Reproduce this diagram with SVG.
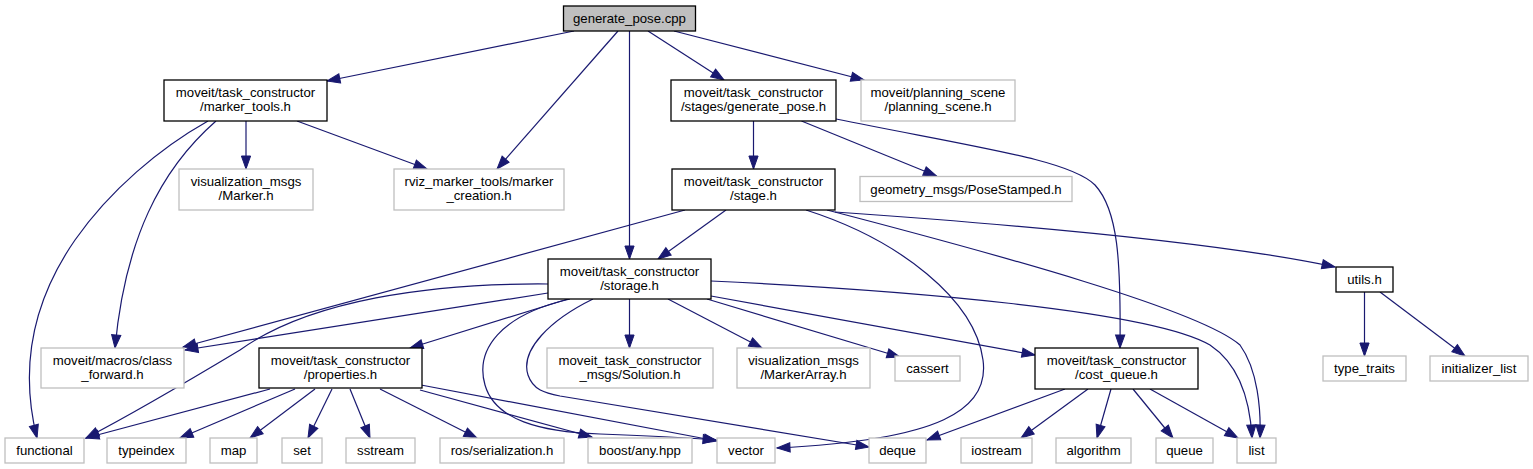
<svg xmlns="http://www.w3.org/2000/svg" width="1533" height="469" viewBox="0 0 1533 469">
<style>
.n rect{fill:#ffffff;stroke:#000000;stroke-width:1.3}
.g rect{fill:#ffffff;stroke:#bfbfbf;stroke-width:1.3}
.root rect{fill:#bfbfbf;stroke:#000000;stroke-width:1.3}
text{font-family:"Liberation Sans",Arial,sans-serif;font-size:13.2px;fill:#000000;text-anchor:middle}
#edges path{fill:none;stroke:#191970;stroke-width:1.2;marker-end:url(#ah)}
</style>
<defs>
<marker id="ah" markerUnits="userSpaceOnUse" markerWidth="14" markerHeight="10" refX="13" refY="5" orient="auto" overflow="visible">
<path d="M0,0.4 L13,5 L0,9.6 z" fill="#191970" stroke="#191970" stroke-width="1"/>
</marker>
</defs>
<rect width="1533" height="469" fill="#ffffff"/>
<g id="edges">
<path d="M574,31 L327,81"/>
<path d="M618,31 L497,169"/>
<path d="M629.5,31 L629.5,259"/>
<path d="M648,31 L724,80"/>
<path d="M674,31 L864,80"/>
<path d="M246,121 L246,169"/>
<path d="M297,121 L427,169"/>
<path d="M208,121 C160,148 110,190 75,240 C30,305 20,370 37,438"/>
<path d="M216,121 C160,170 125,240 115,348"/>
<path d="M753.5,121 L753.5,169"/>
<path d="M801.5,121 L936.5,176"/>
<path d="M836,119 C980,148 1070,160 1095,185 C1118,210 1121,260 1120,348"/>
<path d="M685,210 L183,347"/>
<path d="M726,210 L658,259"/>
<path d="M806,210 C900,240 975,300 983,360 C990,410 940,440 777,448"/>
<path d="M827,210 C1000,255 1200,310 1240,345 C1258,370 1261,410 1260,438"/>
<path d="M835,212 C950,220 1200,238 1335,267"/>
<path d="M548,293 L185,350"/>
<path d="M548,284 C430,283 310,300 240,350 C190,380 140,410 86,438"/>
<path d="M568,299 L410,348"/>
<path d="M629.5,299 L629.5,348"/>
<path d="M668,299 L762,348"/>
<path d="M707,299 L900,357"/>
<path d="M711,296 L1035,355"/>
<path d="M711,281 C900,290 1150,310 1210,345 C1240,365 1250,400 1252,438"/>
<path d="M570,299 C500,315 475,350 485,385 C495,420 540,432 600,434 C650,436 690,438 716,440"/>
<path d="M593,299 C550,320 520,350 528,375 C533,390 545,393 560,396 L869,447"/>
<path d="M270,389 L86,438"/>
<path d="M295,389 L180,438"/>
<path d="M315,389 L250,438"/>
<path d="M332,389 L308,438"/>
<path d="M350,389 L370,438"/>
<path d="M380,389 L477,438"/>
<path d="M420,390 L592,437"/>
<path d="M421,385 L717,441"/>
<path d="M1065,389 L927,440"/>
<path d="M1088,389 L1021,438"/>
<path d="M1111,389 L1097,438"/>
<path d="M1133,389 L1173,438"/>
<path d="M1150,389 L1238,438"/>
<path d="M1364.5,292 L1364.5,356"/>
<path d="M1380,292 L1465,356"/>
</g>
<g id="generate_pose_cpp" class="root"><rect x="563.5" y="6" width="132" height="25"/><text x="629.5" y="23">generate_pose.cpp</text></g>
<g id="marker_tools_h" class="n"><rect x="164" y="80" width="163" height="41"/><text x="245.5" y="97">moveit/task_constructor</text><text x="245.5" y="111">/marker_tools.h</text></g>
<g id="marker_h" class="g"><rect x="179" y="169" width="134" height="41"/><text x="246" y="186">visualization_msgs</text><text x="246" y="200">/Marker.h</text></g>
<g id="marker_creation_h" class="g"><rect x="394" y="169" width="170" height="41"/><text x="479" y="186">rviz_marker_tools/marker</text><text x="479" y="200">_creation.h</text></g>
<g id="stages_generate_pose_h" class="n"><rect x="671" y="80" width="165" height="41"/><text x="753.5" y="97">moveit/task_constructor</text><text x="753.5" y="111">/stages/generate_pose.h</text></g>
<g id="planning_scene_h" class="g"><rect x="861" y="80" width="154" height="41"/><text x="938" y="97">moveit/planning_scene</text><text x="938" y="111">/planning_scene.h</text></g>
<g id="stage_h" class="n"><rect x="672" y="169" width="163" height="41"/><text x="753.5" y="186">moveit/task_constructor</text><text x="753.5" y="200">/stage.h</text></g>
<g id="posestamped_h" class="g"><rect x="860" y="176.5" width="212" height="25"/><text x="966" y="193.5">geometry_msgs/PoseStamped.h</text></g>
<g id="utils_h" class="n"><rect x="1336" y="267" width="57" height="25"/><text x="1364.5" y="284">utils.h</text></g>
<g id="storage_h" class="n"><rect x="548" y="259" width="163" height="40"/><text x="629.5" y="276">moveit/task_constructor</text><text x="629.5" y="290">/storage.h</text></g>
<g id="class_forward_h" class="g"><rect x="41" y="348" width="143" height="40"/><text x="112.5" y="365">moveit/macros/class</text><text x="112.5" y="379">_forward.h</text></g>
<g id="properties_h" class="n"><rect x="259" y="348" width="163" height="40"/><text x="340.5" y="365">moveit/task_constructor</text><text x="340.5" y="379">/properties.h</text></g>
<g id="solution_h" class="g"><rect x="547" y="348" width="166" height="40"/><text x="630" y="365">moveit_task_constructor</text><text x="630" y="379">_msgs/Solution.h</text></g>
<g id="markerarray_h" class="g"><rect x="737" y="348" width="133" height="40"/><text x="803.5" y="365">visualization_msgs</text><text x="803.5" y="379">/MarkerArray.h</text></g>
<g id="cassert" class="g"><rect x="895" y="356" width="65" height="25"/><text x="927.5" y="373">cassert</text></g>
<g id="cost_queue_h" class="n"><rect x="1035" y="348" width="163" height="41"/><text x="1116.5" y="365">moveit/task_constructor</text><text x="1116.5" y="379">/cost_queue.h</text></g>
<g id="type_traits" class="g"><rect x="1323" y="356" width="83" height="25"/><text x="1364.5" y="373">type_traits</text></g>
<g id="initializer_list" class="g"><rect x="1430" y="356" width="98" height="25"/><text x="1479" y="373">initializer_list</text></g>
<g id="functional" class="g"><rect x="5" y="438" width="79" height="25"/><text x="44.5" y="455">functional</text></g>
<g id="typeindex" class="g"><rect x="107" y="438" width="79" height="25"/><text x="146.5" y="455">typeindex</text></g>
<g id="map" class="g"><rect x="210" y="438" width="47" height="25"/><text x="233.5" y="455">map</text></g>
<g id="set" class="g"><rect x="282" y="438" width="40" height="25"/><text x="302" y="455">set</text></g>
<g id="sstream" class="g"><rect x="346" y="438" width="69" height="25"/><text x="380.5" y="455">sstream</text></g>
<g id="ros_serialization_h" class="g"><rect x="440" y="438" width="124" height="25"/><text x="502" y="455">ros/serialization.h</text></g>
<g id="boost_any_hpp" class="g"><rect x="588" y="438" width="104" height="25"/><text x="640" y="455">boost/any.hpp</text></g>
<g id="vector" class="g"><rect x="717" y="438" width="58" height="25"/><text x="746" y="455">vector</text></g>
<g id="deque" class="g"><rect x="869" y="438" width="57" height="25"/><text x="897.5" y="455">deque</text></g>
<g id="iostream" class="g"><rect x="961" y="438" width="71" height="25"/><text x="996.5" y="455">iostream</text></g>
<g id="algorithm" class="g"><rect x="1056" y="438" width="75" height="25"/><text x="1093.5" y="455">algorithm</text></g>
<g id="queue" class="g"><rect x="1156" y="438" width="57" height="25"/><text x="1184.5" y="455">queue</text></g>
<g id="list" class="g"><rect x="1237" y="438" width="39" height="25"/><text x="1256.5" y="455">list</text></g>
</svg>
